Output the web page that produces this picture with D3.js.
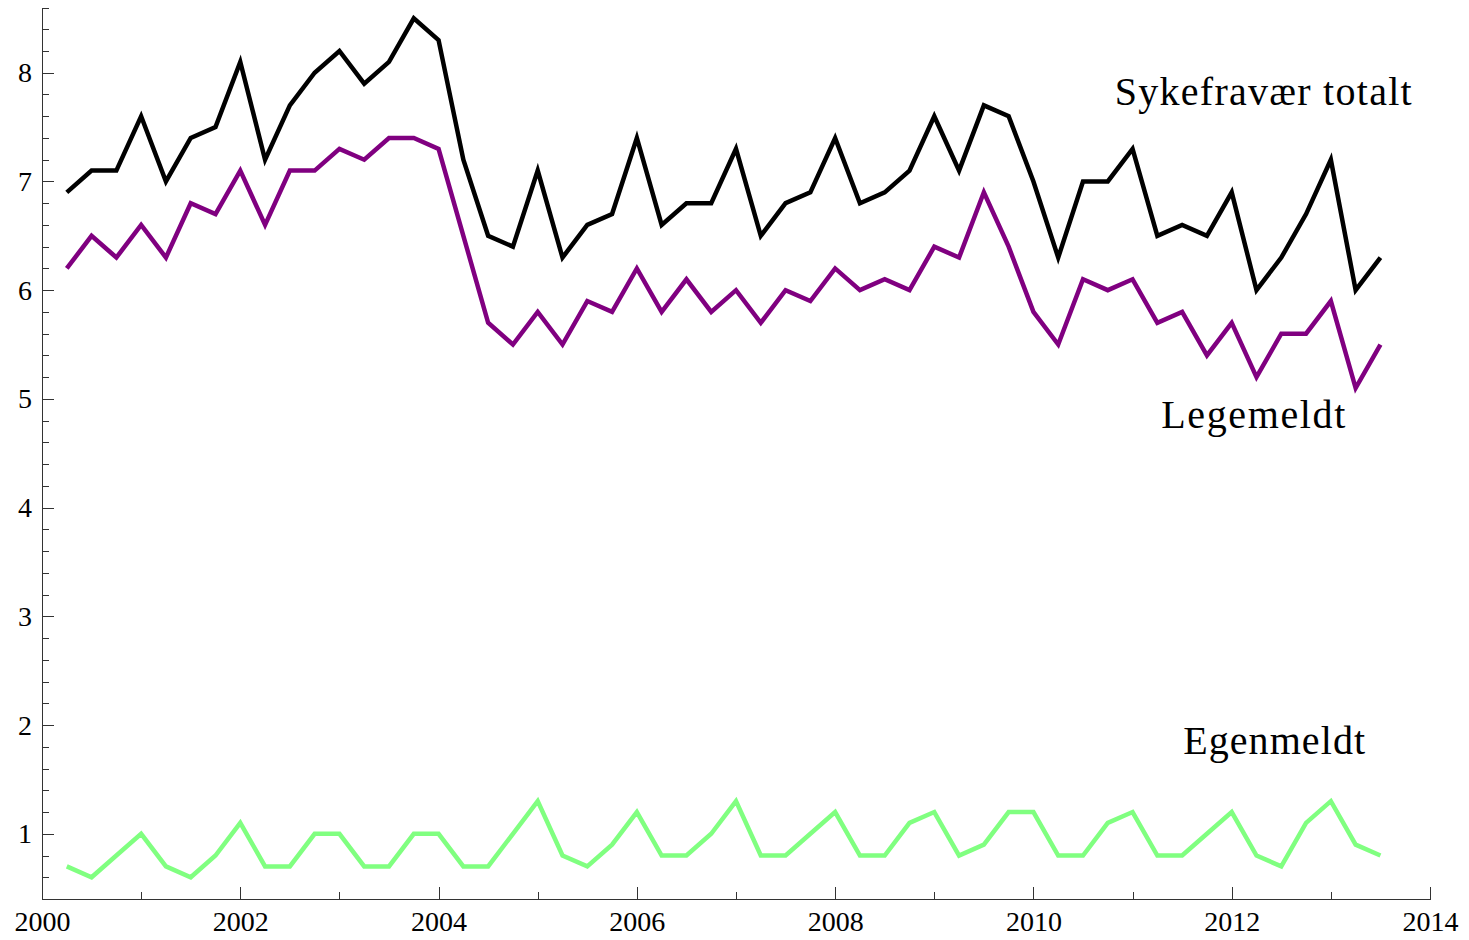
<!DOCTYPE html>
<html lang="no">
<head>
    <meta charset="UTF-8">
    <title>Sykefravær</title>
    <script src="https://d3js.org/d3.v7.min.js"></script>
    <style>
        body { margin: 0; background: #fff; }
        svg { font-family: "Liberation Serif", "DejaVu Serif", serif; }
        .axis path, .axis line { stroke: #333; stroke-width: 1; shape-rendering: crispEdges; }
        .axis text { font-size: 28px; fill: #000; font-family: "Liberation Serif", serif; }
        .label { font-size: 40px; fill: #000; }
    </style>
</head>
<body>
<div id="chart"></div>
<script>
    // quarterly data, 2000 Q1 .. 2013 Q2 (plotted at year + quarter/4)
    const firstQuarter = 2000.25;
    const quarterCount = 54;

    const totalt = [6.9, 7.1, 7.1, 7.6, 7.0, 7.4, 7.5, 8.1, 7.2, 7.7, 8.0, 8.2, 7.9, 8.1, 8.5, 8.3,
                    7.2, 6.5, 6.4, 7.1, 6.3, 6.6, 6.7, 7.4, 6.6, 6.8, 6.8, 7.3, 6.5, 6.8, 6.9, 7.4,
                    6.8, 6.9, 7.1, 7.6, 7.1, 7.7, 7.6, 7.0, 6.3, 7.0, 7.0, 7.3, 6.5, 6.6, 6.5, 6.9,
                    6.0, 6.3, 6.7, 7.2, 6.0, 6.3];
    const legemeldt = [6.2, 6.5, 6.3, 6.6, 6.3, 6.8, 6.7, 7.1, 6.6, 7.1, 7.1, 7.3, 7.2, 7.4, 7.4, 7.3,
                       6.5, 5.7, 5.5, 5.8, 5.5, 5.9, 5.8, 6.2, 5.8, 6.1, 5.8, 6.0, 5.7, 6.0, 5.9, 6.2,
                       6.0, 6.1, 6.0, 6.4, 6.3, 6.9, 6.4, 5.8, 5.5, 6.1, 6.0, 6.1, 5.7, 5.8, 5.4, 5.7,
                       5.2, 5.6, 5.6, 5.9, 5.1, 5.5];
    const egenmeldt = [0.7, 0.6, 0.8, 1.0, 0.7, 0.6, 0.8, 1.1, 0.7, 0.7, 1.0, 1.0, 0.7, 0.7, 1.0, 1.0,
                       0.7, 0.7, 1.0, 1.3, 0.8, 0.7, 0.9, 1.2, 0.8, 0.8, 1.0, 1.3, 0.8, 0.8, 1.0, 1.2,
                       0.8, 0.8, 1.1, 1.2, 0.8, 0.9, 1.2, 1.2, 0.8, 0.8, 1.1, 1.2, 0.8, 0.8, 1.0, 1.2,
                       0.8, 0.7, 1.1, 1.3, 0.9, 0.8];

    const xMajor = [2000, 2002, 2004, 2006, 2008, 2010, 2012, 2014];
    const xMinor = [2001, 2003, 2005, 2007, 2009, 2011, 2013];
    const yMajor = [1, 2, 3, 4, 5, 6, 7, 8];
    const yMinor = [0.6, 0.8, 1.2, 1.4, 1.6, 1.8, 2.2, 2.4, 2.6, 2.8, 3.2, 3.4, 3.6, 3.8,
                    4.2, 4.4, 4.6, 4.8, 5.2, 5.4, 5.6, 5.8, 6.2, 6.4, 6.6, 6.8, 7.2, 7.4, 7.6, 7.8,
                    8.2, 8.4, 8.6];

    const series = [
        { name: "Sykefravær totalt", values: totalt, color: "#000000", at: [2010.82, 7.70], len: 297 },
        { name: "Legemeldt", values: legemeldt, color: "#800080", at: [2011.29, 4.73], len: 184 },
        { name: "Egenmeldt", values: egenmeldt, color: "#80ff80", at: [2011.51, 1.73], len: 182 }
    ];

    const time = d3.range(quarterCount).map(i => firstQuarter + i * 0.25);

    const W = 1469, H = 940;
    const svg = d3.select("#chart").append("svg")
                  .attr("width", W)
                  .attr("height", H);

    const x = d3.scaleLinear().domain([2000, 2014]).range([42, 1430]);
    const y = d3.scaleLinear().domain([0.4, 8.6]).range([899, 7.5]);

    // axes (ticks point into the plot)
    svg.append("g").attr("class", "axis")
       .attr("transform", `translate(0,${y(0.4)})`)
       .call(d3.axisBottom(x).tickValues(xMinor).tickSize(-7).tickSizeOuter(0).tickFormat(""));
    svg.append("g").attr("class", "axis")
       .attr("transform", `translate(0,${y(0.4)})`)
       .call(d3.axisBottom(x).tickValues(xMajor).tickSize(-12).tickSizeOuter(0)
                .tickPadding(12).tickFormat(d3.format("d")));

    svg.append("g").attr("class", "axis")
       .attr("transform", `translate(${x(2000)},0)`)
       .call(d3.axisLeft(y).tickValues(yMinor).tickSize(-7).tickSizeOuter(0).tickFormat(""));
    svg.append("g").attr("class", "axis")
       .attr("transform", `translate(${x(2000)},0)`)
       .call(d3.axisLeft(y).tickValues(yMajor).tickSize(-12).tickSizeOuter(0)
                .tickPadding(10).tickFormat(d3.format("d")));

    const line = d3.line()
                   .x((d, i) => x(time[i]))
                   .y(d => y(d));

    series.forEach(s => {
        svg.append("path")
           .datum(s.values)
           .attr("fill", "none")
           .attr("stroke", s.color)
           .attr("stroke-width", 4.5)
           .attr("stroke-linejoin", "miter")
           .attr("d", line);

        svg.append("text")
           .attr("class", "label")
           .attr("x", x(s.at[0]))
           .attr("y", y(s.at[1]))
           .attr("textLength", s.len)
           .attr("lengthAdjust", "spacing")
           .text(s.name);
    });
</script>
</body>
</html>
